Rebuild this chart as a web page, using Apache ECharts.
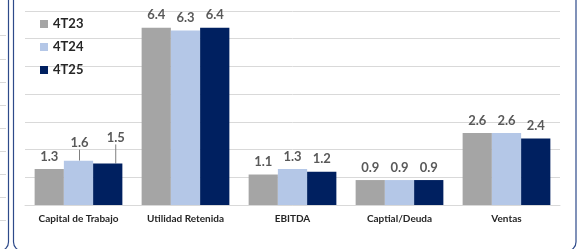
<!DOCTYPE html>
<html>
<head>
<meta charset="utf-8">
<script src="https://cdn.jsdelivr.net/npm/echarts@6/dist/echarts.min.js"></script>
<style>
  html, body { margin: 0; padding: 0; background: #fff; }
  #chart { width: 583px; height: 249px; }
</style>
</head>
<body>
<div id="chart"></div>
<script>
const categories = ['Capital de Trabajo', 'Utilidad Retenida', 'EBITDA', 'Captial/Deuda', 'Ventas']
const seriesNames = ['4T23', '4T24', '4T25']
const values4T23 = [1.3, 6.4, 1.1, 0.9, 2.6]
const values4T24 = [1.6, 6.3, 1.3, 0.9, 2.6]
const values4T25 = [1.5, 6.4, 1.2, 0.9, 2.4]
const colors = ['#A5A5A5', '#B4C7E7', '#002060']

// labels that were dragged up in the original, with a leader line
const labelShift = { '4T24': { 0: [1, -5] }, '4T25': { 0: [8, -13] } }

const FONT = 'Lato, "DejaVu Sans", sans-serif'
const BORDER = '#2E4A8A'

const chart = echarts.init(document.getElementById('chart'))

function makeSeries(name, values, color) {
  const shifts = labelShift[name] || {}
  const data = values.map((v, i) => (
    shifts[i] ? { value: v, labelLine: { show: true } } : { value: v, labelLine: { show: false } }
  ))
  return {
    name,
    type: 'bar',
    data,
    barGap: '0%',
    barCategoryGap: '18%',
    itemStyle: { color },
    label: {
      show: true,
      position: 'top',
      distance: 6,
      fontFamily: FONT,
      fontSize: 13,
      fontWeight: 'bold',
      color: '#595959',
      formatter: p => p.value.toFixed(1),
    },
    labelLine: { lineStyle: { color: '#7F7F7F', width: 1 } },
    labelLayout: p => {
      const s = shifts[p.dataIndex]
      return s ? { dx: s[0], dy: s[1] } : {}
    },
  }
}

// stray grid lines of the neighbouring chart at the left edge
const sideLines = [35, 59, 82, 105, 128, 151, 174, 197, 220].map(y => ({
  type: 'line',
  shape: { x1: 0, y1: y + 0.5, x2: 6, y2: y + 0.5 },
  style: { stroke: '#D9D9D9', lineWidth: 1 },
  silent: true,
}))

chart.setOption({
  animation: false,
  color: colors,
  grid: { left: 25, right: 23, top: 11, bottom: 44, containLabel: false },
  legend: {
    orient: 'vertical',
    left: 35,
    top: 12,
    itemWidth: 8,
    itemHeight: 8,
    itemGap: 9,
    icon: 'rect',
    textStyle: { fontFamily: FONT, fontSize: 13, fontWeight: 'bold', color: '#262626', lineHeight: 14 },
    data: seriesNames,
  },
  xAxis: {
    type: 'category',
    data: categories,
    axisLine: { lineStyle: { color: '#D9D9D9' } },
    axisTick: { show: false },
    axisLabel: { fontFamily: FONT, fontSize: 10, fontWeight: 'bold', color: '#262626', margin: 9 },
  },
  yAxis: {
    type: 'value',
    min: 0,
    max: 7,
    interval: 1,
    axisLabel: { show: false },
    axisLine: { show: false },
    axisTick: { show: false },
    splitLine: { lineStyle: { color: '#D9D9D9', width: 1 } },
  },
  series: [
    makeSeries(seriesNames[0], values4T23, colors[0]),
    makeSeries(seriesNames[1], values4T24, colors[1]),
    makeSeries(seriesNames[2], values4T25, colors[2]),
  ],
  graphic: [
    {
      type: 'rect',
      shape: { x: 13.5, y: -20, width: 562.5, height: 271, r: 9 },
      style: { fill: 'none', stroke: BORDER, lineWidth: 1.2 },
      silent: true,
    },
    {
      type: 'rect',
      shape: { x: -600, y: -20, width: 608.5, height: 271, r: 9 },
      style: { fill: 'none', stroke: BORDER, lineWidth: 1.2 },
      silent: true,
    },
    ...sideLines,
  ],
})

window.addEventListener('resize', () => chart.resize())
</script>
</body>
</html>
